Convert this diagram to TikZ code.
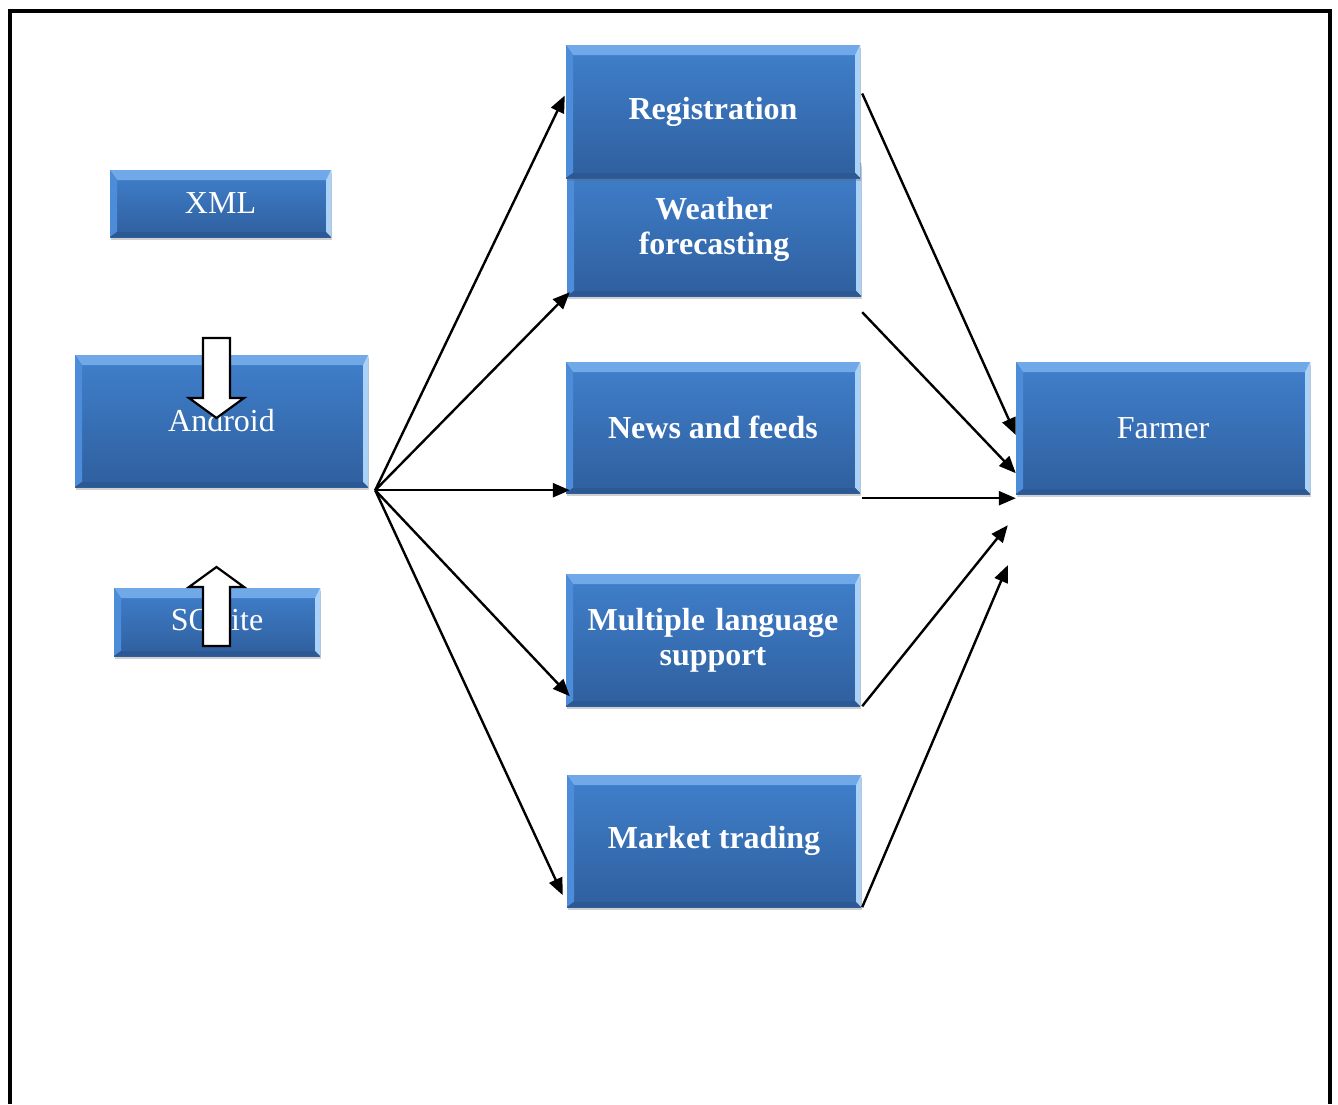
\documentclass[tikz,border=0pt]{standalone}
\usepackage{fontspec}
\setmainfont{Liberation Serif}
\usetikzlibrary{arrows.meta,shadows,calc}
\definecolor{btop}{RGB}{64,128,204}
\definecolor{bbot}{RGB}{47,95,158}
\definecolor{bvtop}{RGB}{112,168,232}
\definecolor{bvleft}{RGB}{76,140,216}
\definecolor{bvright}{RGB}{170,210,248}
\definecolor{bvbot}{RGB}{44,88,148}
\tikzset{
  bbox/.style={rectangle, inner sep=0pt, text=white, align=center,
    font=\fontsize{32}{35}\selectfont,
    top color=btop, bottom color=bbot,
    drop shadow={shadow xshift=1pt, shadow yshift=-3pt, opacity=0.3, fill=black!60},
    path picture={
      \coordinate (pNW) at (path picture bounding box.north west);
      \coordinate (pNE) at (path picture bounding box.north east);
      \coordinate (pSW) at (path picture bounding box.south west);
      \coordinate (pSE) at (path picture bounding box.south east);
      \fill[bvtop] (pNW) -- (pNE) -- ([shift={(-5pt,-10pt)}]pNE) -- ([shift={(7pt,-10pt)}]pNW) -- cycle;
      \fill[bvleft] (pNW) -- ([shift={(7pt,-10pt)}]pNW) -- ([shift={(7pt,5pt)}]pSW) -- (pSW) -- cycle;
      \fill[bvright] (pNE) -- ([shift={(-5pt,-10pt)}]pNE) -- ([shift={(-5pt,5pt)}]pSE) -- (pSE) -- cycle;
      \fill[bvbot] (pSW) -- ([shift={(7pt,5pt)}]pSW) -- ([shift={(-5pt,5pt)}]pSE) -- (pSE) -- cycle;
    }},
  bfont/.style={font=\bfseries\fontsize{32}{35}\selectfont},
  arr/.style={line width=2.4pt, -{Triangle[length=17pt,width=14pt]}},
  blockarrow/.style={draw=black, fill=white, line width=2.2pt, line join=miter}
}
\begin{document}
\begin{tikzpicture}[x=1pt,y=-1pt]
\useasboundingbox (0,0) rectangle (1338,1104);
\fill[white] (0,0) rectangle (1338,1104);
\draw[line width=4pt] (9.5,1104) -- (9.5,10.5) -- (1330,10.5) -- (1330,1104);

% left column
\node[bbox, minimum width=221, minimum height=67] (xml) at (220.5,203.5) {XML};
\node[bbox, minimum width=293, minimum height=132] (android) at (221.5,421) {Android};
\node[bbox, minimum width=206, minimum height=68] (sqlite) at (217,622) {SQLite};

% middle column
\node[bbox, bfont, minimum width=294, minimum height=133, text width=280] (weather) at (714,229.5) {Weather\\forecasting};
\node[bbox, bfont, minimum width=294, minimum height=133] (reg) at (713,111.5) {Registration};
\node[bbox, bfont, minimum width=294, minimum height=131] (news) at (713,427.5) {News and feeds};
\node[bbox, bfont, minimum width=294, minimum height=132, text width=290] (multi) at (713,640) {Multiple language\\support};
\node[bbox, bfont, minimum width=294, minimum height=132] (market) at (714,841) {Market trading};

% right
\node[bbox, minimum width=294, minimum height=132] (farmer) at (1163,428) {Farmer};

% block arrows
\draw[blockarrow] (203,338) -- (230,338) -- (230,398) -- (244,398) -- (216.5,418) -- (189,398) -- (203,398) -- cycle;
\draw[blockarrow] (203,646) -- (230,646) -- (230,587) -- (244,587) -- (216.5,567) -- (189,587) -- (203,587) -- cycle;

% fan-out connectors
\coordinate (src) at ([shift={(7pt,-3pt)}]android.south east);
\draw[arr] (src) -- ([shift={(-1pt,16pt)}]reg.west);
\draw[arr] (src) -- ([shift={(3pt,4pt)}]weather.south west);
\draw[arr] (src) -- ([shift={(4pt,3pt)}]news.south west);
\draw[arr] (src) -- ([shift={(4pt,10pt)}]multi.south west);
\draw[arr] (src) -- ([shift={(-4pt,12pt)}]market.south west);

% fan-in connectors
\draw[arr] ([shift={(2pt,18pt)}]reg.east) -- ([shift={(0pt,-7pt)}]farmer.west);
\draw[arr] ([shift={(1pt,-16pt)}]weather.south east) -- ([shift={(0pt,21pt)}]farmer.south west);
\draw[arr] ([shift={(2pt,-5pt)}]news.south east) -- ([shift={(0pt,-4pt)}]farmer.south west);
\draw[arr] ([shift={(2pt,0pt)}]multi.south east) -- ([shift={(-8pt,-31pt)}]farmer.south west);
\draw[arr] ([shift={(1pt,0pt)}]market.south east) -- ([shift={(-8pt,-71pt)}]farmer.south west);
\end{tikzpicture}
\end{document}
